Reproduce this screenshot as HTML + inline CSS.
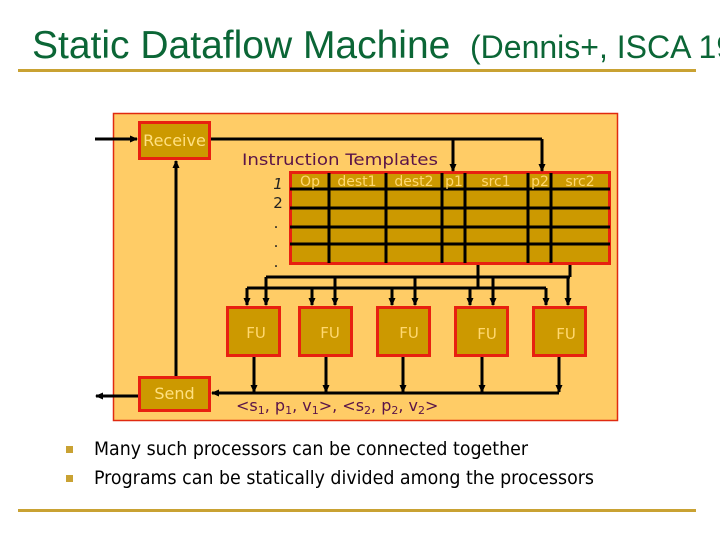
<!DOCTYPE html>
<html><head><meta charset="utf-8"><style>
html,body{margin:0;padding:0;background:#fff;width:720px;height:540px;overflow:hidden}
svg{display:block}
</style></head><body>
<svg width="720" height="540" viewBox="0 0 720 540" xmlns="http://www.w3.org/2000/svg">
<defs>
<marker id="ah" markerWidth="8" markerHeight="8" refX="7" refY="4" orient="auto" markerUnits="userSpaceOnUse">
<path d="M0,0.5 L8,4 L0,7.5 Z" fill="#000"/></marker>
</defs>
<text x="32" y="58" font-family="Liberation Sans, sans-serif" font-size="39" fill="#0b6636">Static Dataflow Machine</text>
<text x="470" y="58" font-family="Liberation Sans, sans-serif" font-size="32" fill="#0b6636">(Dennis+, ISCA 1975)</text>
<rect x="18" y="69" width="678" height="3" fill="#c9a233"/>

<rect x="113.5" y="113.5" width="504" height="307" fill="#ffcc66" stroke="#e02a10" stroke-width="1.5"/>

<g font-family="DejaVu Sans, sans-serif">
<rect x="139.5" y="122.5" width="70" height="36" fill="#cc9900" stroke="#e82010" stroke-width="3"/>
<text x="174.5" y="146" font-size="16" fill="#ffe080" text-anchor="middle">Receive</text>
<rect x="139.5" y="377.5" width="70" height="33" fill="#cc9900" stroke="#e82010" stroke-width="3"/>
<text x="174.5" y="399" font-size="16" fill="#ffe080" text-anchor="middle">Send</text>

<text x="242" y="165" font-size="16" fill="#5a1448" textLength="196" lengthAdjust="spacingAndGlyphs">Instruction Templates</text>

<rect x="290.5" y="172.5" width="319" height="91" fill="#cc9900" stroke="#e82010" stroke-width="3"/>
<g stroke="#000" stroke-width="3">
<line x1="290" y1="189" x2="610" y2="189"/>
<line x1="290" y1="208" x2="610" y2="208"/>
<line x1="290" y1="227" x2="610" y2="227"/>
<line x1="290" y1="244" x2="610" y2="244"/>
<line x1="329" y1="173" x2="329" y2="263"/>
<line x1="386" y1="173" x2="386" y2="263"/>
<line x1="442" y1="173" x2="442" y2="263"/>
<line x1="465" y1="173" x2="465" y2="263"/>
<line x1="528" y1="173" x2="528" y2="263"/>
<line x1="551" y1="173" x2="551" y2="263"/>
</g>
<g font-size="14" fill="#ffd870" text-anchor="middle">
<text x="310" y="186">Op</text><text x="357" y="186">dest1</text><text x="414" y="186">dest2</text>
<text x="454" y="186">p1</text><text x="496" y="186">src1</text><text x="540" y="186">p2</text><text x="580" y="186">src2</text>
</g>
<g font-size="15" fill="#222" text-anchor="middle">
<text x="278" y="189" font-style="italic">1</text><text x="278" y="208">2</text>
<text x="276" y="228">.</text><text x="276" y="247">.</text><text x="276" y="267">.</text>
</g>

<g stroke="#000" stroke-width="3" fill="none">
<line x1="95" y1="139" x2="137" y2="139" marker-end="url(#ah)"/>
<polyline points="211,139 542,139"/>
<line x1="453" y1="139" x2="453" y2="171" marker-end="url(#ah)"/>
<line x1="542" y1="139" x2="542" y2="171" marker-end="url(#ah)"/>
<line x1="176" y1="376" x2="176" y2="161" marker-end="url(#ah)"/>
<line x1="138" y1="396" x2="96" y2="396" marker-end="url(#ah)"/>
<line x1="570" y1="265" x2="570" y2="277"/>
<line x1="478" y1="265" x2="478" y2="288"/>
<line x1="266" y1="277" x2="570" y2="277"/>
<line x1="247" y1="288" x2="546" y2="288"/>
<line x1="266" y1="277" x2="266" y2="305" marker-end="url(#ah)"/>
<line x1="335" y1="277" x2="335" y2="305" marker-end="url(#ah)"/>
<line x1="415" y1="277" x2="415" y2="305" marker-end="url(#ah)"/>
<line x1="493" y1="277" x2="493" y2="305" marker-end="url(#ah)"/>
<line x1="568" y1="277" x2="568" y2="305" marker-end="url(#ah)"/>
<line x1="247" y1="288" x2="247" y2="305" marker-end="url(#ah)"/>
<line x1="312" y1="288" x2="312" y2="305" marker-end="url(#ah)"/>
<line x1="392" y1="288" x2="392" y2="305" marker-end="url(#ah)"/>
<line x1="470" y1="288" x2="470" y2="305" marker-end="url(#ah)"/>
<line x1="546" y1="288" x2="546" y2="305" marker-end="url(#ah)"/>
<line x1="559" y1="393" x2="212" y2="393" marker-end="url(#ah)"/>
<line x1="254" y1="357" x2="254" y2="392" marker-end="url(#ah)"/>
<line x1="326" y1="357" x2="326" y2="392" marker-end="url(#ah)"/>
<line x1="403" y1="357" x2="403" y2="392" marker-end="url(#ah)"/>
<line x1="482" y1="357" x2="482" y2="392" marker-end="url(#ah)"/>
<line x1="559" y1="357" x2="559" y2="392" marker-end="url(#ah)"/>
</g>

<g fill="#cc9900" stroke="#e82010" stroke-width="3">
<rect x="227.5" y="307.5" width="52" height="48"/>
<rect x="299.5" y="307.5" width="52" height="48"/>
<rect x="377.5" y="307.5" width="52" height="48"/>
<rect x="455.5" y="307.5" width="52" height="48"/>
<rect x="533.5" y="307.5" width="52" height="48"/>
</g>
<g font-size="15" fill="#ffd870" text-anchor="middle">
<text x="256" y="338">FU</text><text x="330" y="338">FU</text><text x="409" y="338">FU</text>
<text x="487" y="339">FU</text><text x="566" y="339">FU</text>
</g>

<text x="236" y="411" font-size="16" fill="#5a1448">&lt;s<tspan font-size="11" dy="3">1</tspan><tspan dy="-3">, p</tspan><tspan font-size="11" dy="3">1</tspan><tspan dy="-3">, v</tspan><tspan font-size="11" dy="3">1</tspan><tspan dy="-3">&gt;, &lt;s</tspan><tspan font-size="11" dy="3">2</tspan><tspan dy="-3">, p</tspan><tspan font-size="11" dy="3">2</tspan><tspan dy="-3">, v</tspan><tspan font-size="11" dy="3">2</tspan><tspan dy="-3">&gt;</tspan></text>
</g>

<rect x="66" y="446" width="7" height="7" fill="#c9a233"/>
<rect x="66" y="475" width="7" height="7" fill="#c9a233"/>
<g font-family="DejaVu Sans Condensed, DejaVu Sans, sans-serif" font-size="19" fill="#000">
<text x="94" y="455" textLength="434" lengthAdjust="spacingAndGlyphs">Many such processors can be connected together</text>
<text x="94" y="484" textLength="500" lengthAdjust="spacingAndGlyphs">Programs can be statically divided among the processors</text>
</g>
<rect x="18" y="509" width="678" height="3" fill="#c9a233"/>
</svg>
</body></html>
